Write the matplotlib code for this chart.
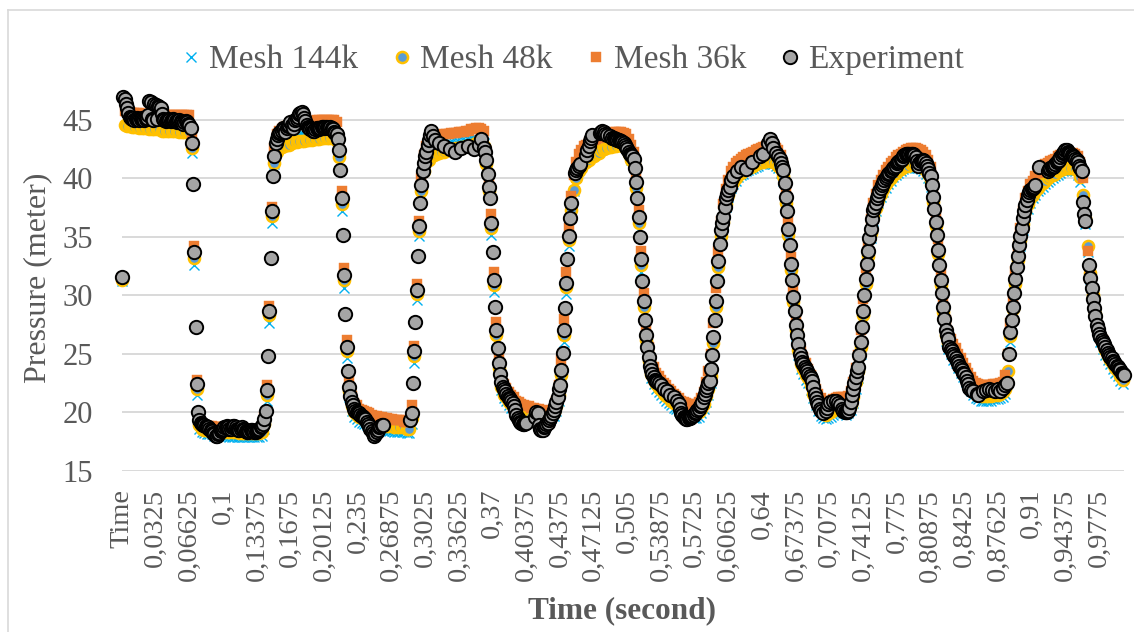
import matplotlib.pyplot as plt
from matplotlib.lines import Line2D
import numpy as np

plt.rcParams['font.family'] = ['Liberation Serif', 'DejaVu Serif']

nan = float('nan')

# x axis: one category per sheet row (dt = 0.00125 s), a label every 27th row
tick_labels = ['Time', '0,0325', '0,06625', '0,1', '0,13375', '0,1675', '0,20125', '0,235',
               '0,26875', '0,3025', '0,33625', '0,37', '0,40375', '0,4375', '0,47125', '0,505',
               '0,53875', '0,5725', '0,60625', '0,64', '0,67375', '0,7075', '0,74125', '0,775',
               '0,80875', '0,8425', '0,87625', '0,91', '0,94375', '0,9775']
label_every = 27

# measured pressure (meter), one value per row, blanks where the sheet has none
experiment = [
    31.6, 47.0, 46.8, 46.4, 46.0, 45.6, 45.3, 45.2, 45.1, 45.2,
    45.0, 45.1, 45.2, 45.1, 45.0, 45.1, 45.2, 45.1, 45.0, 45.1,
    45.2, 45.4, 46.6, 46.5, 45.1, 45.0, 46.4, 46.3, 45.1, 46.2,
    46.1, 46.0, 45.5, 45.1, 45.0, 44.9, 45.0, 45.1, 45.0, 44.9,
    45.0, 45.1, 45.0, 44.9, 44.8, 44.9, 45.0, 44.9, 44.8, 44.7,
    44.8, 44.9, 44.8, 44.7, 44.6, 44.3, 43.0, 39.5, 33.7, 27.3,
    22.4, 20.0, 19.3, 19.1, 19.0, 18.9, 18.9, 18.8, 18.7, 18.7,
    18.6, 18.5, 18.4, 18.2, 18.1, 18.0, 18.0, 18.1, 18.2, 18.4,
    18.5, 18.6, 18.7, 18.7, 18.8, 18.7, 18.6, 18.6, 18.7, 18.8,
    18.8, 18.7, 18.6, 18.5, 18.5, 18.6, 18.7, 18.6, 18.5, 18.4,
    18.3, 18.3, 18.4, 18.5, 18.5, 18.4, 18.3, 18.3, 18.4, 18.5,
    18.6, 18.7, 18.8, 19.0, 19.4, 20.1, 21.9, 24.8, 28.7, 33.2,
    37.2, 40.2, 41.9, 43.0, 43.4, 43.7, 43.9, 44.0, 44.1, 44.3,
    44.2, 44.0, 44.3, 44.5, 44.6, 44.8, 44.6, 44.3, 44.7, 45.0,
    45.1, 45.3, 45.5, 45.6, 45.7, 45.5, 45.2, 44.9, 44.6, 44.4,
    44.3, 44.2, 44.2, 44.1, 44.1, 44.2, 44.3, 44.3, 44.2, 44.3,
    44.4, 44.4, 44.3, 44.4, 44.4, 44.3, 44.3, 44.4, 44.3, 44.2,
    44.0, 43.9, 43.8, 43.4, 42.4, 40.7, 38.3, 35.2, 31.7, 28.4,
    25.6, 23.5, 22.2, 21.4, 20.9, 20.6, 20.3, 20.1, 20.0, 19.9,
    19.9, 19.8, 19.7, 19.6, 19.5, 19.4, 19.2, 19.0, 18.8, 18.6,
    18.4, 18.2, 18.0, 18.1, 18.3, 18.5, 18.7, 18.8, 18.9, 18.9,
    nan, nan, nan, nan, nan, nan, nan, nan, nan, nan,
    nan, nan, nan, nan, nan, nan, nan, nan, nan, nan,
    nan, 19.3, 19.9, 22.5, 25.2, 27.7, 30.5, 33.4, 35.9, 37.9,
    39.4, 40.6, 41.3, 41.9, 42.3, 42.9, 43.3, 43.7, 44.1, 43.6,
    nan, 43.3, nan, nan, 43.0, nan, nan, nan, 42.8, nan,
    nan, nan, nan, 42.5, nan, nan, nan, 42.3, nan, nan,
    nan, nan, 42.6, nan, nan, nan, nan, 42.8, nan, nan,
    nan, nan, 42.5, nan, nan, nan, 42.9, nan, 43.4, nan,
    42.6, 42.3, 41.6, 40.4, 39.3, 38.3, 36.2, 33.7, 31.3, 29.0,
    27.0, 25.5, 24.2, 23.3, 22.6, 22.2, 22.0, 21.8, 21.6, 21.4,
    21.2, 21.1, 21.0, 20.8, 20.5, 20.2, 19.8, 19.5, 19.3, 19.2,
    19.1, 19.0, 19.0, 19.1, 19.1, nan, nan, nan, nan, nan,
    nan, 19.6, 20.0, 19.9, 18.9, 18.6, 18.5, 18.5, 18.7, 18.8,
    19.0, 19.1, 19.3, 19.5, 19.7, 19.9, 20.2, 20.5, 20.9, 21.3,
    22.0, 22.3, 23.6, 25.1, 27.0, 28.9, 31.1, 33.1, 35.1, 36.6,
    37.9, nan, nan, 40.5, 40.7, 40.9, 41.1, 41.2, nan, nan,
    nan, nan, 42.0, 42.4, 42.8, 43.2, 43.5, 43.7, nan, nan,
    nan, nan, nan, 43.9, 44.0, 44.1, 44.0, 43.8, nan, 43.7,
    nan, 43.6, nan, 43.5, 43.5, 43.4, 43.4, 43.3, 43.3, 43.2,
    43.2, 43.1, 43.0, 42.9, 42.7, 42.5, 42.3, 42.1, 42.0, 41.9,
    41.7, 40.9, 39.7, 38.3, 36.7, 35.0, 33.1, 31.2, 29.5, 27.9,
    26.6, 25.6, 24.7, 24.0, 23.6, 23.3, 23.0, 22.8, 22.7, 22.6,
    22.5, nan, 22.3, nan, 22.0, nan, nan, 21.8, nan, 21.5,
    nan, nan, 21.3, nan, nan, 21.0, 20.7, 20.3, 19.9, 19.8,
    19.6, 19.5, 19.4, 19.4, 19.5, 19.5, 19.6, 19.7, 19.8, 19.9,
    20.0, 20.2, 20.3, 20.5, 20.6, 20.9, 21.3, 21.6, 21.9, 22.2,
    22.5, 22.7, 23.7, 24.9, 26.4, 27.9, 29.5, 31.2, 32.9, 34.4,
    35.6, 36.2, 36.7, 37.6, 38.3, 38.7, 39.0, 39.3, 39.9, nan,
    40.2, nan, nan, 40.6, nan, nan, 41.0, nan, nan, nan,
    40.8, nan, nan, nan, nan, 41.4, nan, nan, nan, nan,
    nan, 41.9, nan, nan, 42.1, nan, nan, nan, 43.0, 43.4,
    nan, 43.0, 42.6, nan, 42.2, nan, 41.9, 41.7, 41.3, 41.0,
    40.7, 39.6, 38.4, 37.2, 35.7, 34.3, 32.7, 31.3, 29.9, 28.7,
    27.5, 26.6, 25.8, 25.0, 24.6, 24.3, 24.1, 23.9, 23.7, 23.5,
    23.3, 23.1, 22.9, 22.7, 22.2, 21.6, 21.2, 20.9, 20.6, 20.3,
    20.1, nan, 19.9, nan, 20.1, 20.4, 20.7, 20.9, nan, nan,
    21.0, nan, 21.0, nan, 20.8, 20.6, nan, 20.3, 20.1, 20.0,
    20.0, 20.0, 20.1, 20.4, 20.9, 21.5, 22.0, 22.5, 23.0, 23.5,
    23.9, 24.9, 26.0, 27.3, 28.7, 30.0, 31.4, 32.7, 33.8, 34.9,
    35.7, 36.5, 37.3, 37.6, 37.9, 38.3, 38.6, 38.9, 39.2, 39.4,
    39.6, 39.9, 40.0, 40.2, 40.4, 40.5, 40.6, 40.7, 40.9, 41.0,
    41.1, 41.3, 41.4, 41.5, 41.6, 41.7, 41.9, 42.0, 42.1, 42.1,
    42.1, 42.1, 42.1, 42.1, 42.1, 42.0, 41.8, 41.5, 41.1, 41.3,
    41.5, 41.6, 41.6, 41.5, 41.3, 41.1, 40.8, 40.5, 40.2, 39.4,
    38.4, 37.4, 36.3, 35.2, 33.9, 32.6, 31.3, 30.2, 29.0, 28.0,
    27.0, 26.6, 26.3, 25.6, 25.4, 25.2, 25.0, 24.8, 24.6, 24.4,
    24.2, 24.0, 23.8, 23.6, 23.4, 23.3, 23.0, 22.7, 22.4, 22.1,
    21.9, nan, 21.8, nan, nan, 21.6, 21.5, nan, nan, nan,
    21.8, nan, 21.9, nan, nan, 22.0, nan, 21.9, nan, nan,
    21.8, nan, 22.0, nan, 21.8, nan, 22.1, nan, 22.3, 22.5,
    nan, 25.0, 26.9, 27.9, 29.0, 30.2, 31.4, 32.4, 33.4, 34.3,
    35.1, 35.8, 36.6, 37.2, 37.7, 38.2, 38.6, 38.8, 39.0, 39.1,
    39.2, 39.3, 39.4, nan, nan, 41.0, nan, nan, nan, nan,
    nan, nan, 40.6, 40.8, 40.9, 41.0, 41.0, 41.1, 41.2, 41.4,
    41.5, 41.6, 41.8, 42.0, 42.2, 42.3, 42.4, 42.4, 42.3, 42.2,
    42.1, 42.0, 41.9, 41.8, 41.7, 41.6, 41.4, 41.1, 40.9, 40.6,
    38.0, 37.0, 36.4, nan, nan, 32.6, 31.5, 30.6, 29.7, 28.9,
    28.2, 27.5, 27.1, 26.7, 26.4, 26.2, 26.0, 25.8, 25.6, 25.3,
    25.1, 24.9, 24.7, 24.6, 24.4, 24.3, 24.1, 24.0, 23.9, 23.7,
    23.6, 23.4, 23.3, 23.2,
]

# simulations, every second row
mesh144 = [
    31.2, 45.2, 45.0, 44.9, 44.8, 44.8, 44.7, 44.7, 44.7, 44.6,
    44.6, 44.6, 44.6, 44.6, 44.5, 44.5, 44.5, 44.5, 44.5, 44.5,
    44.5, 44.4, 44.4, 44.4, 44.4, 44.4, 44.4, 44.3, 42.2, 32.6,
    21.5, 18.6, 18.3, 18.2, 18.1, 18.1, 18.1, 18.0, 18.0, 18.0,
    18.0, 18.0, 18.0, 17.9, 17.9, 17.9, 17.9, 17.9, 17.9, 17.9,
    17.9, 17.9, 17.9, 17.9, 17.9, 17.9, 18.0, 18.6, 21.0, 27.6,
    36.2, 41.2, 42.6, 43.0, 43.2, 43.3, 43.4, 43.5, 43.5, 43.6,
    43.6, 43.7, 43.7, 43.7, 43.8, 43.8, 43.8, 43.9, 43.9, 43.9,
    44.0, 44.0, 44.0, 44.0, 43.9, 43.9, 43.5, 41.4, 37.2, 30.6,
    24.6, 21.3, 20.1, 19.6, 19.4, 19.2, 19.1, 19.0, 18.9, 18.8,
    18.7, 18.6, 18.6, 18.5, 18.5, 18.4, 18.4, 18.4, 18.4, 18.3,
    18.3, 18.3, 18.3, 18.3, 18.2, 18.2, 19.0, 24.2, 29.6, 35.1,
    38.6, 40.7, 41.7, 42.1, 42.4, 42.6, 42.7, 42.8, 42.8, 42.9,
    42.9, 43.0, 43.0, 43.0, 43.1, 43.1, 43.2, 43.2, 43.2, 43.3,
    43.3, 43.3, 43.3, 43.3, 43.2, 43.0, 40.9, 38.4, 35.2, 30.3,
    26.1, 23.4, 21.9, 21.2, 21.0, 20.6, 20.4, 20.2, 19.9, 19.7,
    19.5, 19.5, 19.4, 19.4, 19.4, 19.3, 19.3, 19.3, 19.3, 19.4,
    19.4, 19.5, 19.5, 19.7, 20.1, 21.0, 22.6, 26.0, 30.1, 34.2,
    36.9, 38.9, 40.1, 40.8, 41.2, 41.6, 41.8, 42.0, 42.2, 42.3,
    42.5, 42.6, 42.8, 42.9, 43.0, 43.1, 43.1, 43.2, 43.2, 43.3,
    43.3, 43.2, 42.9, 42.3, 41.6, 41.0, 38.8, 35.7, 32.0, 28.5,
    25.8, 24.0, 22.9, 22.4, 22.0, 21.7, 21.5, 21.2, 21.0, 20.8,
    20.6, 20.4, 20.3, 20.1, 19.9, 19.8, 19.7, 19.6, 19.6, 19.5,
    19.5, 19.6, 19.9, 20.3, 20.9, 21.5, 22.5, 25.3, 28.5, 32.0,
    34.8, 36.1, 37.6, 38.4, 39.2, 39.5, 39.8, 40.1, 40.3, 40.4,
    40.6, 40.7, 40.8, 40.9, 41.0, 41.1, 41.2, 41.2, 41.3, 41.3,
    41.3, 41.2, 41.1, 40.9, 40.5, 39.8, 37.4, 34.7, 31.7, 28.9,
    26.5, 24.9, 23.7, 23.3, 22.8, 22.5, 21.9, 21.2, 20.6, 20.1,
    19.7, 19.5, 19.4, 19.5, 19.6, 19.8, 19.9, 20.0, 20.0, 19.9,
    19.8, 19.9, 20.2, 20.8, 22.0, 22.9, 25.0, 27.8, 30.5, 33.0,
    34.9, 36.4, 37.2, 37.9, 38.4, 38.8, 39.2, 39.5, 39.8, 40.1,
    40.3, 40.5, 40.6, 40.8, 40.9, 40.9, 41.0, 41.0, 41.0, 40.9,
    40.8, 40.6, 40.4, 40.0, 39.3, 37.5, 35.4, 33.0, 30.4, 28.1,
    26.1, 25.4, 25.0, 24.5, 24.2, 23.8, 23.4, 23.0, 22.6, 22.2,
    21.8, 21.5, 21.2, 21.1, 21.0, 21.0, 21.0, 21.0, 21.0, 21.1,
    21.1, 21.1, 21.2, 21.3, 21.6, 23.0, 26.0, 28.3, 30.5, 32.5,
    34.2, 35.6, 36.8, 37.4, 37.9, 38.3, 38.6, 38.9, 39.1, 39.3,
    39.5, 39.7, 39.9, 40.0, 40.2, 40.3, 40.5, 40.6, 40.7, 40.7,
    40.7, 40.7, 40.6, 40.3, 39.7, 38.1, 36.1, 33.7, 31.4, 29.5,
    27.9, 26.6, 26.0, 25.4, 24.9, 24.5, 24.1, 23.7, 23.4, 23.1,
    22.7, 22.4,
]

mesh48 = [
    31.3, 44.6, 44.5, 44.5, 44.4, 44.4, 44.4, 44.3, 44.3, 44.3,
    44.3, 44.2, 44.2, 44.2, 44.2, 44.2, 44.1, 44.1, 44.1, 44.1,
    44.1, 44.1, 44.1, 44.0, 44.0, 44.0, 44.0, 44.0, 42.6, 33.2,
    22.0, 18.9, 18.6, 18.5, 18.5, 18.4, 18.4, 18.4, 18.4, 18.3,
    18.3, 18.3, 18.3, 18.3, 18.3, 18.3, 18.3, 18.2, 18.2, 18.2,
    18.2, 18.2, 18.2, 18.2, 18.2, 18.2, 18.3, 19.0, 21.5, 28.3,
    36.8, 41.3, 42.3, 42.6, 42.7, 42.8, 42.9, 42.9, 43.0, 43.1,
    43.1, 43.2, 43.2, 43.2, 43.3, 43.3, 43.3, 43.4, 43.4, 43.4,
    43.5, 43.5, 43.5, 43.5, 43.5, 43.5, 43.2, 41.8, 37.8, 31.3,
    25.2, 21.8, 20.5, 20.0, 19.8, 19.6, 19.5, 19.4, 19.3, 19.2,
    19.1, 19.0, 19.0, 18.9, 18.9, 18.8, 18.8, 18.8, 18.8, 18.7,
    18.7, 18.7, 18.7, 18.7, 18.6, 18.6, 19.5, 24.8, 30.1, 35.5,
    38.9, 40.6, 41.4, 41.6, 41.9, 42.0, 42.1, 42.2, 42.3, 42.3,
    42.4, 42.4, 42.5, 42.5, 42.6, 42.6, 42.7, 42.7, 42.8, 42.8,
    42.9, 42.9, 43.0, 43.0, 42.9, 42.8, 41.2, 38.9, 35.8, 30.9,
    26.6, 23.8, 22.2, 21.5, 21.3, 20.9, 20.7, 20.5, 20.2, 20.0,
    19.8, 19.8, 19.7, 19.7, 19.7, 19.6, 19.6, 19.6, 19.6, 19.7,
    19.7, 19.8, 19.8, 20.0, 20.5, 21.5, 23.2, 26.6, 30.7, 34.7,
    37.3, 39.0, 40.0, 40.6, 40.9, 41.3, 41.4, 41.6, 41.8, 41.9,
    42.1, 42.2, 42.4, 42.5, 42.6, 42.7, 42.7, 42.8, 42.8, 42.9,
    42.9, 42.8, 42.6, 42.1, 41.6, 41.2, 39.2, 36.2, 32.6, 29.0,
    26.2, 24.4, 23.3, 22.8, 22.4, 22.1, 21.9, 21.6, 21.4, 21.2,
    21.0, 20.8, 20.7, 20.5, 20.3, 20.2, 20.1, 20.0, 20.0, 19.9,
    19.9, 20.0, 20.3, 20.7, 21.4, 22.0, 23.1, 25.9, 29.0, 32.4,
    35.1, 36.3, 37.8, 38.6, 39.4, 39.7, 40.0, 40.3, 40.5, 40.6,
    40.8, 40.9, 41.0, 41.1, 41.2, 41.3, 41.4, 41.4, 41.5, 41.5,
    41.5, 41.4, 41.3, 41.1, 40.8, 40.2, 37.9, 35.2, 32.2, 29.4,
    27.0, 25.3, 24.1, 23.7, 23.2, 22.9, 22.3, 21.6, 21.0, 20.5,
    20.1, 19.9, 19.8, 19.9, 20.0, 20.2, 20.3, 20.4, 20.4, 20.3,
    20.2, 20.3, 20.6, 21.3, 22.6, 23.5, 25.6, 28.3, 31.0, 33.4,
    35.3, 36.8, 37.5, 38.2, 38.7, 39.1, 39.5, 39.8, 40.0, 40.3,
    40.5, 40.7, 40.8, 41.0, 41.1, 41.1, 41.2, 41.2, 41.2, 41.1,
    41.0, 40.9, 40.7, 40.4, 39.8, 38.0, 35.9, 33.5, 30.9, 28.6,
    26.6, 25.9, 25.4, 24.9, 24.6, 24.2, 23.8, 23.4, 23.0, 22.6,
    22.2, 21.9, 21.6, 21.5, 21.4, 21.4, 21.4, 21.4, 21.4, 21.5,
    21.5, 21.5, 21.6, 21.7, 22.0, 23.5, 26.5, 28.8, 31.0, 33.0,
    34.7, 36.1, 37.2, 37.8, 38.3, 38.6, 38.9, 39.2, 39.4, 39.6,
    39.8, 40.0, 40.2, 40.3, 40.4, 40.6, 40.7, 40.8, 40.9, 40.9,
    40.9, 40.9, 40.8, 40.6, 40.1, 38.6, 36.6, 34.2, 31.9, 30.0,
    28.4, 27.0, 26.4, 25.8, 25.3, 24.8, 24.5, 24.1, 23.8, 23.5,
    23.1, 22.8,
]

mesh36 = [
    31.5, 45.8, 45.7, 45.7, 45.6, 45.6, 45.6, 45.6, 45.5, 45.5,
    45.5, 45.5, 45.5, 45.5, 45.5, 45.5, 45.4, 45.4, 45.4, 45.4,
    45.4, 45.4, 45.4, 45.4, 45.4, 45.4, 45.4, 45.4, 43.6, 34.2,
    22.8, 19.4, 19.0, 18.9, 18.8, 18.8, 18.8, 18.7, 18.7, 18.7,
    18.7, 18.7, 18.7, 18.6, 18.6, 18.6, 18.6, 18.6, 18.6, 18.6,
    18.6, 18.6, 18.6, 18.6, 18.6, 18.6, 18.7, 19.6, 22.3, 29.1,
    37.6, 42.6, 43.8, 44.1, 44.2, 44.4, 44.5, 44.5, 44.6, 44.7,
    44.7, 44.8, 44.8, 44.8, 44.9, 44.9, 44.9, 44.9, 45.0, 45.0,
    45.0, 45.0, 45.0, 45.0, 45.0, 45.0, 44.8, 43.0, 38.9, 32.3,
    26.2, 22.8, 21.4, 20.8, 20.6, 20.3, 20.2, 20.1, 20.0, 19.9,
    19.8, 19.7, 19.7, 19.6, 19.6, 19.5, 19.5, 19.4, 19.4, 19.3,
    19.3, 19.3, 19.3, 19.2, 19.2, 19.2, 20.6, 25.7, 31.0, 36.4,
    40.0, 42.0, 42.8, 43.1, 43.5, 43.6, 43.6, 43.7, 43.7, 43.8,
    43.8, 43.8, 43.9, 43.9, 43.9, 44.0, 44.0, 44.0, 44.1, 44.1,
    44.2, 44.2, 44.3, 44.3, 44.2, 44.1, 42.4, 40.0, 37.0, 32.0,
    27.7, 24.8, 23.2, 22.4, 22.1, 21.7, 21.5, 21.3, 21.0, 20.9,
    20.7, 20.6, 20.5, 20.5, 20.4, 20.4, 20.3, 20.3, 20.2, 20.1,
    20.1, 20.1, 20.2, 20.3, 21.0, 22.3, 24.5, 28.0, 32.0, 35.8,
    38.5, 40.3, 41.4, 42.1, 42.4, 42.8, 42.9, 43.1, 43.2, 43.3,
    43.4, 43.5, 43.6, 43.7, 43.8, 43.9, 43.9, 44.0, 44.0, 44.0,
    44.0, 43.9, 43.8, 43.4, 42.9, 42.3, 40.3, 37.3, 33.8, 30.2,
    27.4, 25.6, 24.5, 23.9, 23.4, 23.1, 22.8, 22.5, 22.3, 22.0,
    21.8, 21.6, 21.4, 21.2, 21.0, 20.9, 20.8, 20.7, 20.6, 20.6,
    20.7, 20.9, 21.2, 21.7, 22.6, 23.5, 25.0, 27.6, 30.6, 33.8,
    36.4, 37.8, 39.1, 39.9, 40.6, 41.0, 41.3, 41.5, 41.7, 41.8,
    42.0, 42.1, 42.2, 42.3, 42.4, 42.5, 42.6, 42.7, 42.8, 42.8,
    42.8, 42.7, 42.6, 42.4, 42.0, 41.3, 39.0, 36.3, 33.3, 30.5,
    28.1, 26.5, 25.2, 24.7, 24.2, 23.7, 23.2, 22.6, 22.0, 21.6,
    21.2, 21.0, 20.9, 20.9, 21.0, 21.1, 21.2, 21.3, 21.3, 21.3,
    21.2, 21.4, 21.8, 22.6, 23.8, 24.9, 27.0, 29.7, 32.3, 34.6,
    36.5, 37.9, 38.7, 39.4, 39.9, 40.3, 40.7, 41.0, 41.3, 41.5,
    41.8, 42.0, 42.1, 42.3, 42.4, 42.5, 42.6, 42.6, 42.6, 42.5,
    42.4, 42.3, 42.0, 41.6, 41.0, 39.3, 37.1, 34.8, 32.2, 29.9,
    27.9, 26.9, 26.3, 25.8, 25.5, 25.0, 24.6, 24.2, 23.8, 23.4,
    23.0, 22.7, 22.5, 22.4, 22.3, 22.3, 22.3, 22.3, 22.3, 22.4,
    22.4, 22.4, 22.5, 22.6, 23.2, 25.0, 27.6, 29.9, 32.1, 34.1,
    35.8, 37.2, 38.3, 38.9, 39.5, 39.8, 40.2, 40.5, 40.8, 41.0,
    41.2, 41.3, 41.5, 41.6, 41.7, 41.9, 42.0, 42.1, 42.2, 42.2,
    42.2, 42.2, 42.1, 41.9, 41.4, 40.0, 36.5, 33.8, 31.9, 30.2,
    28.7, 27.4, 26.8, 26.2, 25.7, 25.2, 24.9, 24.5, 24.2, 23.9,
    23.5, 23.2,
]

fig = plt.figure(figsize=(11.34, 6.32), dpi=100)
ax = fig.add_axes([0.1076, 0.2552, 0.8836, 0.5956])

x_exp = np.arange(len(experiment))
x_sim = np.arange(len(mesh48)) * 2

ax.plot(x_sim, mesh144, ls='none', marker='x', ms=7, mew=1.0, color='#00B0F0',
        clip_on=False, label='Mesh 144k', zorder=3)
ax.plot(x_sim, mesh48, ls='none', marker='o', ms=8, mfc='#5B9BD5', mec='#FFC000', mew=1.8,
        clip_on=False, label='Mesh 48k', zorder=4)
ax.plot(x_sim, mesh36, ls='none', marker='s', ms=6.5, mfc='#ED7D31', mec='#ED7D31', mew=0.3,
        clip_on=False, label='Mesh 36k', zorder=5)
ax.plot(x_exp, experiment, ls='none', marker='o', ms=9.6, mfc='#A5A5A5', mec='black', mew=1.4,
        clip_on=False, label='Experiment', zorder=6)

ax.set_xlim(0, len(experiment) - 1)
ax.set_ylim(15, 47.2)
ax.set_yticks([15, 20, 25, 30, 35, 40, 45])
ax.set_xticks(np.arange(len(tick_labels)) * label_every)
ax.set_xticklabels(tick_labels, rotation=90)
ax.tick_params(axis='x', length=0, pad=13, labelsize=20.5, labelcolor='#595959')
ax.tick_params(axis='y', length=0, pad=21, labelsize=22, labelcolor='#595959')
ax.grid(axis='y', color='#D9D9D9', lw=1.4)
ax.set_axisbelow(True)
for s in ax.spines.values():
    s.set_visible(False)

fig.text(38 / 1134, 1 - 278 / 632, 'Pressure (meter)', rotation=90, ha='center', va='center',
         fontsize=23, color='#595959')
fig.text(622 / 1134, 1 - 611 / 632, 'Time (second)', ha='center', va='center',
         fontsize=22.5, fontweight='bold', color='#595959')

fig.legend(loc='center', bbox_to_anchor=(0.505, 0.905), ncol=4, frameon=False, fontsize=24,
           handlelength=0.6, handletextpad=0.25, columnspacing=1.0, labelcolor='#595959')

# chart area border
fig.add_artist(Line2D([8 / 1134, 8 / 1134], [0, 1 - 10 / 632], transform=fig.transFigure,
                      color='#D9D9D9', lw=1.2))
fig.add_artist(Line2D([8 / 1134, 1], [1 - 10 / 632, 1 - 10 / 632], transform=fig.transFigure,
                      color='#D9D9D9', lw=1.2))

fig.savefig('out.png', dpi=100)
